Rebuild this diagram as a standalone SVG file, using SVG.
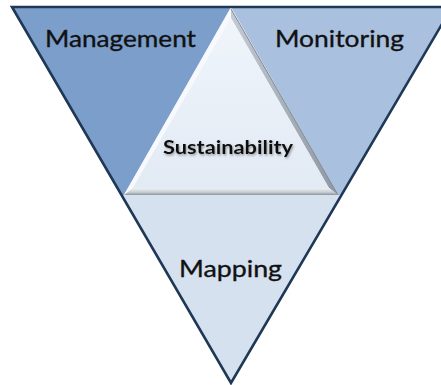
<svg xmlns="http://www.w3.org/2000/svg" width="441" height="385" viewBox="0 0 441 385">
  <defs>
    <linearGradient id="bottomBevel" x1="0" y1="0" x2="0" y2="1">
      <stop offset="0" stop-color="#eef2f6"/>
      <stop offset="0.6" stop-color="#c9ced4"/>
      <stop offset="1" stop-color="#8c939b"/>
    </linearGradient>
    <linearGradient id="rightBevel" x1="0" y1="0" x2="1" y2="0">
      <stop offset="0" stop-color="#c4cad2"/>
      <stop offset="1" stop-color="#8d97a3"/>
    </linearGradient>
    <linearGradient id="face" x1="0" y1="0" x2="0" y2="1">
      <stop offset="0" stop-color="#f0f5fb"/>
      <stop offset="1" stop-color="#e2eaf4"/>
    </linearGradient>
    <filter id="shadow" x="-10%" y="-30%" width="120%" height="160%">
      <feDropShadow dx="1" dy="1.5" stdDeviation="0.8" flood-color="#555555" flood-opacity="0.55"/>
    </filter>
  </defs>
  <style>
    .lbl { font-family: Lato, "Open Sans", "Liberation Sans", sans-serif; font-size: 23.5px; fill: #111111; stroke: #111111; stroke-width: 0.35; text-anchor: middle; }
    .core { font-family: Lato, "Open Sans", "Liberation Sans", sans-serif; font-size: 19px; font-weight: bold; fill: #111111; text-anchor: middle; }
    .edge { fill: none; stroke: #1e3856; stroke-width: 2.6; stroke-linejoin: miter; }
  </style>
  <rect width="441" height="385" fill="#ffffff"/>

  <g id="management">
    <polygon points="12,7 231,7 124,195 121,195" fill="#7c9ecb"/>
    <text class="lbl" x="120.5" y="47" textLength="151" lengthAdjust="spacingAndGlyphs">Management</text>
  </g>

  <g id="monitoring">
    <polygon points="231,7 452,7 342,195 338,195" fill="#a9c1de"/>
    <text class="lbl" x="339.5" y="47" textLength="129" lengthAdjust="spacingAndGlyphs">Monitoring</text>
  </g>

  <g id="mapping">
    <polygon points="121,195 342,195 231,383" fill="#d5e1ef"/>
    <text class="lbl" x="230.5" y="277" textLength="103" lengthAdjust="spacingAndGlyphs">Mapping</text>
  </g>

  <g id="sustainability">
    <polygon points="231,9 124,195 338,195" fill="url(#face)"/>
    <polygon points="231,9 124,195 133,188 231,18" fill="#f7f9fc"/>
    <polygon points="231,9 338,195 329,188 231,18" fill="url(#rightBevel)"/>
    <polygon points="124,195 338,195 329,188 133,188" fill="url(#bottomBevel)"/>
    <polygon points="231,18 133,188 329,188" fill="url(#face)"/>
    <line x1="231" y1="9" x2="338" y2="195" stroke="#7d8996" stroke-width="1"/>
    <text class="core" x="228" y="154" textLength="130" lengthAdjust="spacingAndGlyphs" filter="url(#shadow)">Sustainability</text>
  </g>

  <g id="connectors">
    <polygon class="edge" points="12,7 452,7 231,383"/>
  </g>
</svg>
